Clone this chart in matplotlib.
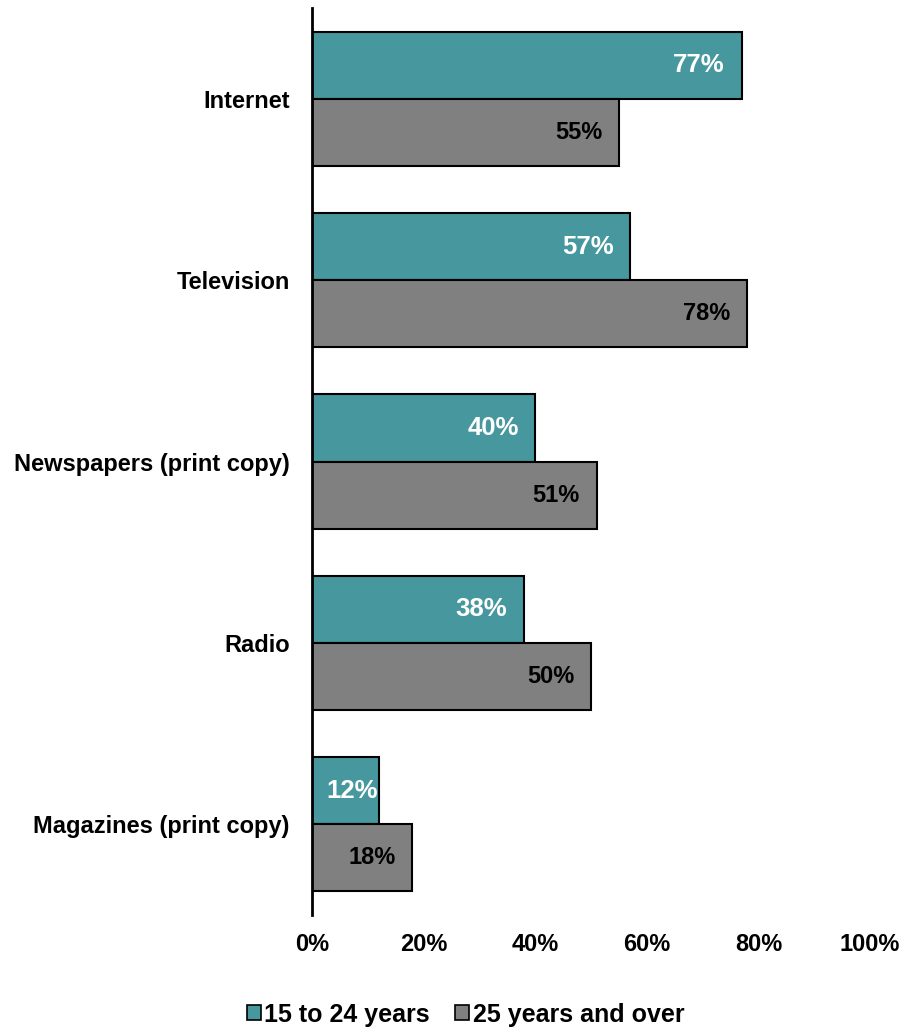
import numpy as np
import matplotlib.pyplot as plt
from matplotlib.patches import Patch

plt.rcParams['font.family'] = ['Liberation Sans', 'DejaVu Sans']
plt.rcParams['font.weight'] = 'bold'

categories = ["Internet", "Television", "Newspapers (print copy)", "Radio", "Magazines (print copy)"]
young = [77, 57, 40, 38, 12]
older = [55, 78, 51, 50, 18]
series_names = ["15 to 24 years", "25 years and over"]
xticks = [0, 20, 40, 60, 80, 100]

teal = "#46979e"
grey = "#808080"

fig = plt.figure(figsize=(9.04, 10.31), dpi=100)
ax = fig.add_axes([0.3451, 0.1125, 0.6173, 0.8797])

y = np.arange(len(categories))
h = 0.37
b1 = ax.barh(y - h / 2, young, height=h, color=teal, edgecolor="black", linewidth=1.5)
b2 = ax.barh(y + h / 2, older, height=h, color=grey, edgecolor="black", linewidth=1.5)

# value labels inside the bar ends
for bars, vals, col, fs in [(b1, young, "white", 18.5), (b2, older, "black", 17)]:
    for bar, v in zip(bars, vals):
        cy = bar.get_y() + bar.get_height() / 2
        off = -1 if v < 15 else -12
        ax.annotate(f"{v}%", (v, cy), xytext=(off, 0), textcoords="offset points",
                    ha="right", va="center", color=col, fontsize=fs, fontweight="bold")

ax.set_xlim(0, 100)
ax.set_ylim(len(categories) - 0.5, -0.5)
ax.set_xticks(xticks)
ax.set_xticklabels([f"{t}%" for t in xticks], fontsize=17, fontweight="bold")
ax.set_yticks(y)
ax.set_yticklabels(categories, fontsize=17, fontweight="bold")
ax.tick_params(axis="x", length=0, pad=13)
ax.tick_params(axis="y", length=0, pad=16)
for s in ["top", "right", "bottom"]:
    ax.spines[s].set_visible(False)
ax.spines["left"].set_linewidth(2)

handles = [Patch(facecolor=teal, edgecolor="black", linewidth=1.2),
           Patch(facecolor=grey, edgecolor="black", linewidth=1.2)]
fig.legend(handles, series_names, loc="center", bbox_to_anchor=(0.515, 0.016), ncol=2,
           frameon=False, prop={"size": 18, "weight": "bold"}, handlelength=0.55,
           handleheight=0.55, handletextpad=0.15, columnspacing=1.0)

fig.savefig("out.png", dpi=100)
